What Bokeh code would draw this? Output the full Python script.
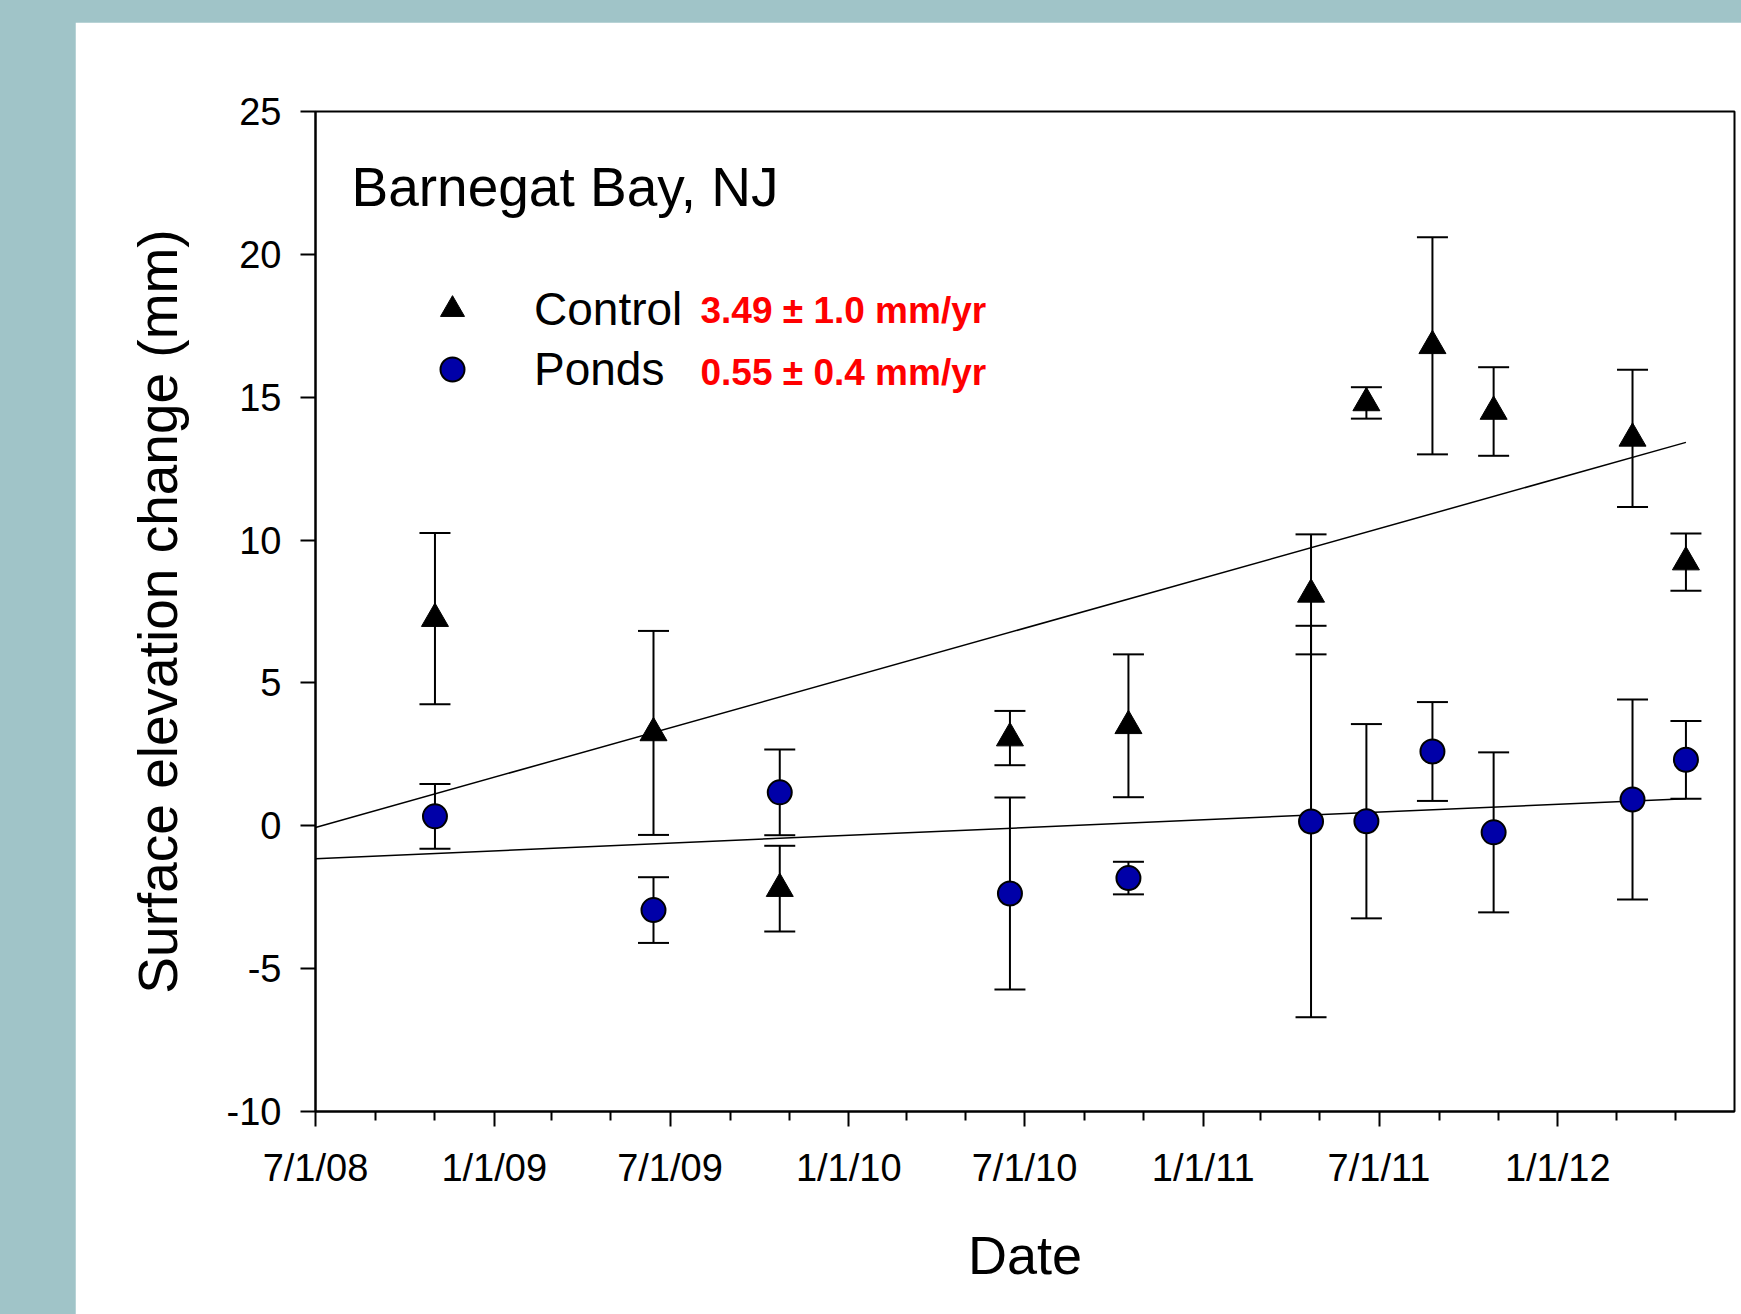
import re
import pandas as pd
from bokeh.plotting import figure
from bokeh.models import (ColumnDataSource, Whisker, TeeHead, FixedTicker, Legend,
                          LegendItem, Label, Range1d, Spacer)
from bokeh.layouts import column, row
from bokeh.embed import file_html
from bokeh.resources import INLINE

# ---------------- data ----------------
dates = ["2008-11-01", "2009-06-14", "2009-10-22", "2010-06-16", "2010-10-16",
         "2011-04-22", "2011-06-18", "2011-08-25", "2011-10-27", "2012-03-18",
         "2012-05-12"]
control_mean = [7.25, 3.25, -2.2, 3.07, 3.5, 8.1, 14.8, 16.8, 14.5, 13.56, 9.23]
control_err = [3.0, 3.57, 1.5, 0.95, 2.5, 2.1, 0.55, 3.8, 1.55, 2.4, 1.0]
ponds_mean = [0.33, -2.95, 1.17, -2.37, -1.83, 0.15, 0.16, 2.6, -0.23, 0.92, 2.31]
ponds_err = [1.13, 1.15, 1.5, 3.36, 0.57, 6.85, 3.4, 1.73, 2.8, 3.5, 1.36]

fit_dates = ["2008-07-01", "2012-05-12"]
control_fit = [-0.06, 13.42]
ponds_fit = [-1.15, 0.95]

y_ticks = [-10, -5, 0, 5, 10, 15, 20, 25]
y_tick_labels = ["-10", "-5", "0", "5", "10", "15", "20", "25"]
x_tick_dates = ["2008-07-01", "2009-01-01", "2009-07-01", "2010-01-01",
                "2010-07-01", "2011-01-01", "2011-07-01", "2012-01-01"]
x_tick_labels = ["7/1/08", "1/1/09", "7/1/09", "1/1/10", "7/1/10", "1/1/11",
                 "7/1/11", "1/1/12"]
x_minor_dates = ["2008-09-01", "2008-11-01", "2009-03-01", "2009-05-01",
                 "2009-09-01", "2009-11-01", "2010-03-01", "2010-05-01",
                 "2010-09-01", "2010-11-01", "2011-03-01", "2011-05-01",
                 "2011-09-01", "2011-11-01", "2012-03-01", "2012-05-01"]
x_start, x_end = "2008-07-01", "2012-07-01"

rate_control = "3.49 \u00b1 1.0 mm/yr"
rate_ponds = "0.55 \u00b1 0.4 mm/yr"

BG = "#a0c4c8"


def ms(d):
    return pd.Timestamp(d).value / 1e6


x = [ms(d) for d in dates]
src_c = ColumnDataSource(dict(x=x, y=control_mean,
                              lo=[m - e for m, e in zip(control_mean, control_err)],
                              hi=[m + e for m, e in zip(control_mean, control_err)]))
src_p = ColumnDataSource(dict(x=x, y=ponds_mean,
                              lo=[m - e for m, e in zip(ponds_mean, ponds_err)],
                              hi=[m + e for m, e in zip(ponds_mean, ponds_err)]))

FONT = "Liberation Sans"

p = figure(width=1666, height=1292, output_backend="svg", toolbar_location=None,
           x_range=Range1d(ms(x_start), ms(x_end)), y_range=Range1d(-10, 25),
           min_border_left=240, min_border_right=7, min_border_top=89,
           min_border_bottom=203, background_fill_color="white",
           border_fill_color="white")
p.grid.visible = False
p.outline_line_color = "black"
p.outline_line_width = 2

# axes
p.xaxis.ticker = FixedTicker(ticks=[ms(d) for d in x_tick_dates],
                             minor_ticks=[ms(d) for d in x_minor_dates])
p.xaxis.major_label_overrides = {ms(d): l for d, l in zip(x_tick_dates, x_tick_labels)}
p.yaxis.ticker = FixedTicker(ticks=y_ticks, minor_ticks=[])
p.yaxis.major_label_overrides = {v: l for v, l in zip(y_ticks, y_tick_labels)}
for ax in (p.xaxis[0], p.yaxis[0]):
    ax.axis_line_width = 2
    ax.axis_line_color = "black"
    ax.major_tick_line_width = 2
    ax.minor_tick_line_width = 2
    ax.major_tick_out = 15
    ax.major_tick_in = 0
    ax.minor_tick_out = 9
    ax.minor_tick_in = 0
    ax.major_label_text_font = FONT
    ax.major_label_text_font_size = "38px"
    ax.major_label_text_color = "black"
    ax.axis_label_text_font = FONT
    ax.axis_label_text_font_style = "normal"
    ax.axis_label_text_color = "black"
p.xaxis.axis_label = "Date"
p.yaxis.axis_label = "Surface elevation change (mm)"
p.xaxis.axis_label_text_font_size = "54px"
p.yaxis.axis_label_text_font_size = "55px"
p.xaxis.major_label_standoff = 20
p.yaxis.major_label_standoff = 19
p.xaxis.axis_label_standoff = 33
p.yaxis.axis_label_standoff = 35

# error bars
for src in (src_c, src_p):
    w = Whisker(source=src, base="x", upper="hi", lower="lo", dimension="height",
                line_color="black", line_width=2,
                upper_head=TeeHead(size=31, line_width=2, line_color="black"),
                lower_head=TeeHead(size=31, line_width=2, line_color="black"))
    p.add_layout(w)

# regression lines
fx = [ms(d) for d in fit_dates]
p.line(fx, control_fit, line_color="black", line_width=1.5)
p.line(fx, ponds_fit, line_color="black", line_width=1.5)

# markers
r_c = p.scatter("x", "y", source=src_c, marker="triangle", size=27,
                fill_color="black", line_color="black", line_width=1)
r_p = p.scatter("x", "y", source=src_p, marker="circle", size=24,
                fill_color="#0000a8", line_color="black", line_width=2)

legend = Legend(items=[LegendItem(label="Control", renderers=[r_c]),
                       LegendItem(label="Ponds", renderers=[r_p])],
                location=(107, 712), glyph_width=60, glyph_height=60,
                label_standoff=52, spacing=0, padding=0, margin=0,
                border_line_color=None, background_fill_alpha=0,
                label_text_font=FONT, label_text_font_size="46px",
                label_text_color="black")
p.add_layout(legend)

p.add_layout(Label(x=36, y=925, x_units="screen", y_units="screen",
                   text="Barnegat Bay, NJ", text_font=FONT, text_font_size="55px",
                   text_baseline="alphabetic", text_color="black"))
p.add_layout(Label(x=385, y=801, x_units="screen", y_units="screen",
                   text=rate_control, text_font=FONT, text_font_size="37px",
                   text_font_style="bold", text_baseline="middle", text_color="#ff0000"))
p.add_layout(Label(x=385, y=739, x_units="screen", y_units="screen",
                   text=rate_ponds, text_font=FONT, text_font_size="37px",
                   text_font_style="bold", text_baseline="middle", text_color="#ff0000"))

layout = column(Spacer(height=22), row(Spacer(width=75), p),
                styles={"background-color": BG})
html = file_html(layout, INLINE)
html = re.sub(r"<body[^>]*>",
              '<body style="margin:0;background-color:%s;overflow:hidden;">' % BG,
              html, count=1)
open("out.html", "w").write(html)
